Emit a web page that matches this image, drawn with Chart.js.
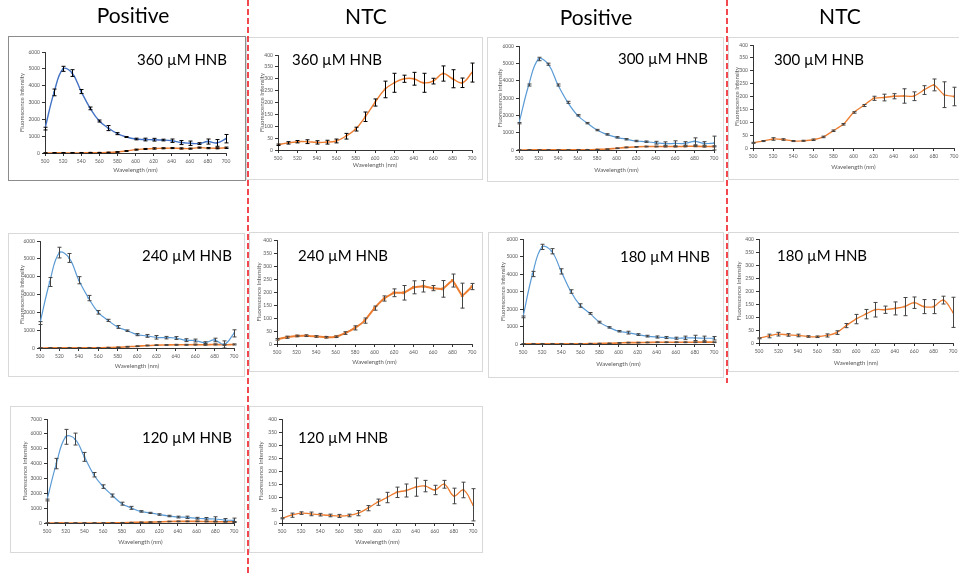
<!DOCTYPE html>
<html>
<head>
<meta charset="utf-8">
<script src="https://cdn.jsdelivr.net/npm/chart.js@4.4.1/dist/chart.umd.min.js"></script>
<style>
  html, body { margin: 0; padding: 0; background: #fff; }
  body { width: 959px; height: 573px; position: relative; overflow: hidden; }
  .panel { position: absolute; box-sizing: border-box; border: 1px solid #d9d9d9; background: #fff; }
  .panel canvas { position: absolute; left: 0; top: 0; }
  #overlay { position: absolute; left: 0; top: 0; pointer-events: none; }
</style>
</head>
<body>
<svg id="overlay" width="959" height="573">
  <g font-family="Lato, 'Open Sans', sans-serif" font-size="21" fill="#000" text-anchor="middle">
    <text x="133" y="23">Positive</text>
    <text x="366" y="24">NTC</text>
    <text x="596" y="25">Positive</text>
    <text x="840" y="24">NTC</text>
  </g>
  <line x1="248" y1="0" x2="248" y2="573" stroke="#ee1c24" stroke-width="1.6" stroke-dasharray="6 3"/>
  <line x1="727" y1="0" x2="727" y2="383" stroke="#ee1c24" stroke-width="1.6" stroke-dasharray="6 3"/>
</svg>
<script>
// ── Emission scan data (fluorescence vs wavelength, mean ± SD) ─────────────
const WAVELENGTHS = [500, 510, 520, 530, 540, 550, 560, 570, 580, 590, 600,
                     610, 620, 630, 640, 650, 660, 670, 680, 690, 700];

// 360 µM HNB
const pos360      = [1450, 3600, 5000, 4750, 3650, 2650, 1900, 1480, 1150, 950, 830, 800, 790, 770, 730, 620, 580, 560, 680, 600, 850];
const pos360Err   = [80, 200, 150, 200, 120, 80, 60, 150, 60, 30, 50, 80, 80, 50, 100, 120, 130, 50, 150, 200, 250];
const posNtc360   = [0, 10, 10, 10, 10, 20, 20, 30, 60, 120, 200, 240, 270, 280, 290, 270, 260, 320, 290, 280, 310];
const posNtc360Err= [10, 15, 15, 15, 15, 15, 15, 20, 20, 25, 30, 30, 40, 30, 30, 35, 30, 30, 35, 30, 40];
const ntc360      = [22, 30, 35, 35, 32, 33, 38, 58, 88, 140, 200, 255, 283, 300, 300, 283, 290, 322, 300, 283, 326];
const ntc360Err   = [3, 5, 5, 8, 7, 8, 8, 12, 8, 20, 15, 35, 40, 15, 27, 40, 12, 32, 38, 20, 40];

// 300 µM HNB
const pos300      = [1550, 3750, 5250, 4950, 3750, 2750, 2000, 1550, 1150, 900, 730, 620, 520, 480, 420, 370, 380, 380, 500, 380, 400];
const pos300Err   = [40, 60, 100, 60, 60, 60, 40, 40, 40, 40, 40, 40, 40, 40, 80, 100, 150, 100, 200, 100, 400];
const posNtc300   = [0, 5, 5, 5, 5, 5, 10, 15, 30, 50, 100, 150, 180, 200, 200, 200, 200, 210, 220, 200, 210];
const posNtc300Err= [5, 5, 5, 5, 5, 5, 5, 10, 10, 10, 20, 20, 20, 20, 20, 25, 25, 25, 30, 30, 30];
const ntc300      = [20, 27, 35, 33, 27, 28, 32, 43, 67, 92, 138, 165, 193, 196, 201, 202, 201, 225, 245, 207, 200];
const ntc300Err   = [2, 2, 5, 3, 2, 2, 3, 3, 3, 3, 3, 4, 8, 13, 10, 28, 17, 17, 23, 50, 36];

// 240 µM HNB
const pos240      = [1400, 3700, 5350, 5050, 3800, 2800, 2000, 1550, 1180, 970, 750, 680, 600, 580, 560, 440, 420, 300, 450, 200, 820];
const pos240Err   = [80, 250, 300, 250, 200, 150, 100, 60, 80, 40, 60, 80, 100, 70, 80, 80, 80, 50, 100, 200, 200];
const posNtc240   = [0, 5, 5, 10, 10, 10, 15, 20, 40, 70, 100, 140, 160, 170, 180, 180, 190, 180, 200, 180, 200];
const posNtc240Err= [10, 10, 10, 10, 10, 10, 10, 15, 15, 20, 20, 20, 20, 20, 25, 25, 25, 25, 30, 30, 30];
const ntc240      = [18, 26, 31, 32, 29, 26, 28, 42, 62, 90, 138, 175, 197, 197, 218, 222, 215, 212, 244, 186, 221];
const ntc240Err   = [3, 4, 3, 3, 3, 3, 3, 5, 8, 10, 8, 10, 15, 28, 25, 22, 10, 32, 25, 48, 12];

// 180 µM HNB
const pos180      = [1550, 4000, 5550, 5300, 4150, 3000, 2200, 1750, 1250, 950, 730, 650, 540, 450, 400, 370, 330, 350, 350, 330, 330];
const pos180Err   = [50, 150, 150, 150, 150, 100, 100, 50, 50, 40, 40, 80, 50, 50, 60, 60, 60, 100, 150, 120, 100];
const posNtc180   = [10, 10, 10, 10, 10, 10, 15, 20, 30, 40, 60, 80, 80, 90, 100, 100, 100, 100, 100, 110, 100];
const posNtc180Err= [5, 5, 5, 5, 5, 5, 5, 10, 10, 10, 15, 15, 15, 15, 20, 20, 20, 20, 20, 20, 20];
const ntc180      = [18, 27, 34, 31, 29, 25, 24, 29, 40, 67, 92, 111, 128, 128, 133, 140, 155, 140, 140, 165, 118];
const ntc180Err   = [2, 7, 7, 5, 5, 3, 3, 6, 7, 8, 18, 18, 28, 14, 25, 35, 22, 27, 27, 15, 58];

// 120 µM HNB
const pos120      = [1550, 4000, 5800, 5650, 4450, 3250, 2450, 1850, 1300, 1020, 780, 680, 570, 470, 400, 380, 320, 290, 270, 200, 180];
const pos120Err   = [60, 350, 500, 400, 300, 150, 120, 100, 100, 100, 50, 40, 50, 50, 60, 80, 60, 80, 150, 100, 150];
const posNtc120   = [0, 5, 5, 5, 5, 5, 5, 10, 15, 30, 50, 60, 80, 100, 110, 110, 110, 100, 90, 80, 80];
const posNtc120Err= [5, 5, 5, 5, 5, 5, 5, 10, 10, 10, 15, 15, 15, 15, 20, 20, 20, 20, 20, 20, 20];
const ntc120      = [18, 30, 38, 35, 32, 29, 27, 29, 38, 57, 80, 98, 118, 125, 138, 142, 127, 149, 104, 127, 70];
const ntc120Err   = [2, 8, 5, 7, 5, 5, 6, 5, 10, 10, 12, 20, 20, 25, 35, 22, 18, 15, 30, 30, 62];

const BLUE = "#5b9bd5";
const ORANGE = "#ed7d31";
const FONT = "Lato, 'Open Sans', sans-serif";
const AXIS_TEXT = "#595959";

// Panel layout, page coordinates: box = outer frame, plot = axis rectangle
const PANELS = [
  { label: "360 µM HNB", box: [8, 36, 246, 181], plot: [45, 52, 226, 153], ymax: 6000, ystep: 1000,
    labelAt: [227, 60, "right"], yTitleX: 22, xTitleY: 170, frame: "#8c8c8c", errColor: "#000",
    series: [
      { values: pos360, errors: pos360Err, color: "#4472c4", width: 1.4 },
      { values: posNtc360, errors: posNtc360Err, color: ORANGE, width: 1.4 },
    ] },
  { label: "360 µM HNB", box: [246, 37, 483, 180], plot: [278, 55, 472, 150], ymax: 400, ystep: 50,
    labelAt: [292, 60, "left"], yTitleX: 262, xTitleY: 165, errColor: "#000",
    series: [{ values: ntc360, errors: ntc360Err, color: ORANGE, width: 1.4 }] },
  { label: "300 µM HNB", box: [487, 37, 724, 182], plot: [519, 46, 714, 150], ymax: 6000, ystep: 1000,
    labelAt: [708, 59, "right"], yTitleX: 500, xTitleY: 170, errColor: "#444",
    series: [
      { values: pos300, errors: pos300Err, color: BLUE, width: 1.2 },
      { values: posNtc300, errors: posNtc300Err, color: ORANGE, width: 1.6 },
    ] },
  { label: "300 µM HNB", box: [728, 37, 962, 180], plot: [753, 45, 954, 148], ymax: 400, ystep: 50,
    labelAt: [774, 60, "left"], yTitleX: 737, xTitleY: 167, errColor: "#444",
    series: [{ values: ntc300, errors: ntc300Err, color: ORANGE, width: 1.3, tension: 0.15 }] },
  { label: "240 µM HNB", box: [8, 233, 245, 377], plot: [40, 241, 234, 348], ymax: 6000, ystep: 1000,
    labelAt: [232, 256, "right"], yTitleX: 22, xTitleY: 366, errColor: "#444",
    series: [
      { values: pos240, errors: pos240Err, color: BLUE, width: 1.2 },
      { values: posNtc240, errors: posNtc240Err, color: ORANGE, width: 1.6 },
    ] },
  { label: "240 µM HNB", box: [249, 232, 483, 372], plot: [277, 240, 472, 344], ymax: 400, ystep: 50,
    labelAt: [298, 256, "left"], yTitleX: 259, xTitleY: 362, errColor: "#444",
    series: [{ values: ntc240, errors: ntc240Err, color: ORANGE, width: 2, tension: 0.1, radius: 2 }] },
  { label: "180 µM HNB", box: [488, 232, 724, 378], plot: [523, 239, 714, 344], ymax: 6000, ystep: 1000,
    labelAt: [710, 257, "right"], yTitleX: 503, xTitleY: 364, errColor: "#444",
    series: [
      { values: pos180, errors: pos180Err, color: BLUE, width: 1.2 },
      { values: posNtc180, errors: posNtc180Err, color: ORANGE, width: 1.6 },
    ] },
  { label: "180 µM HNB", box: [728, 232, 962, 372], plot: [759, 239, 953, 343], ymax: 400, ystep: 50,
    labelAt: [777, 256, "left"], yTitleX: 739, xTitleY: 363, errColor: "#444",
    series: [{ values: ntc180, errors: ntc180Err, color: ORANGE, width: 1.3 }] },
  { label: "120 µM HNB", box: [10, 406, 245, 553], plot: [47, 419, 234, 523], ymax: 7000, ystep: 1000,
    labelAt: [232, 438, "right"], yTitleX: 25, xTitleY: 542, errColor: "#444",
    series: [
      { values: pos120, errors: pos120Err, color: BLUE, width: 1.2 },
      { values: posNtc120, errors: posNtc120Err, color: ORANGE, width: 1.6 },
    ] },
  { label: "120 µM HNB", box: [249, 406, 483, 553], plot: [282, 419, 473, 523], ymax: 400, ystep: 50,
    labelAt: [298, 438, "left"], yTitleX: 261, xTitleY: 542, errColor: "#444",
    series: [{ values: ntc120, errors: ntc120Err, color: ORANGE, width: 1.3 }] },
];

// Vertical error bars with small caps, drawn through the chart's own scales
const errorBars = {
  id: "errorBars",
  afterDatasetsDraw(chart, _args, opts) {
    const { ctx } = chart;
    const yScale = chart.scales.y;
    ctx.save();
    ctx.strokeStyle = opts.color || "#000";
    ctx.lineWidth = 1;
    chart.data.datasets.forEach((ds, di) => {
      if (!ds.errors) return;
      const meta = chart.getDatasetMeta(di);
      meta.data.forEach((pt, i) => {
        const v = ds.data[i].y, e = ds.errors[i];
        if (!e) return;
        const x = Math.round(pt.x) + 0.5;
        const yHi = yScale.getPixelForValue(v + e);
        const yLo = yScale.getPixelForValue(Math.max(v - e, 0));
        ctx.beginPath();
        ctx.moveTo(x, yHi); ctx.lineTo(x, yLo);
        ctx.moveTo(x - 2, yHi); ctx.lineTo(x + 2, yHi);
        ctx.moveTo(x - 2, yLo); ctx.lineTo(x + 2, yLo);
        ctx.stroke();
      });
    });
    ctx.restore();
  },
};

// Concentration label placed inside the plot
const panelLabel = {
  id: "panelLabel",
  afterDraw(chart, _args, opts) {
    const { ctx } = chart;
    ctx.save();
    ctx.font = "15px " + FONT;
    ctx.fillStyle = "#000";
    ctx.textAlign = opts.align;
    ctx.textBaseline = "middle";
    ctx.fillText(opts.text, opts.x, opts.y);
    ctx.restore();
  },
};

function axisCommon(font) {
  return {
    grid: { display: true, drawOnChartArea: false, tickLength: 3, color: "#000", lineWidth: 0.8 },
    border: { display: true, color: "#000", width: 0.8 },
    ticks: { color: AXIS_TEXT, font: { size: 5, family: font }, padding: 2, autoSkip: false, maxRotation: 0,
             callback: v => String(v) },
  };
}

function makePanel(p) {
  const w = p.box[2] - p.box[0], h = p.box[3] - p.box[1];
  const div = document.createElement("div");
  div.className = "panel";
  Object.assign(div.style, { left: p.box[0] + "px", top: p.box[1] + "px", width: w + "px", height: h + "px" });
  if (p.frame) div.style.borderColor = p.frame;
  const cv = document.createElement("canvas");
  cv.width = w - 2; cv.height = h - 2;
  div.appendChild(cv);
  document.body.insertBefore(div, document.getElementById("overlay"));

  const ox = p.box[0] + 1, oy = p.box[1] + 1;
  const cw = w - 2, ch = h - 2;
  const yAxisW = p.plot[0] - ox;
  const xAxisH = oy + ch - p.plot[3];
  const titleFont = { size: 6, family: FONT, lineHeight: 1.2 };

  const datasets = p.series.map(s => ({
    data: WAVELENGTHS.map((x, i) => ({ x, y: s.values[i] })),
    errors: s.errors,
    borderColor: s.color,
    backgroundColor: s.color,
    borderWidth: s.width,
    pointStyle: "rect",
    pointRadius: s.radius || 1.3,
    pointBorderWidth: 0,
    tension: s.tension != null ? s.tension : 0.4,
  }));

  const xAxis = axisCommon(FONT);
  const yAxis = axisCommon(FONT);

  new Chart(cv, {
    type: "line",
    data: { datasets },
    options: {
      responsive: false,
      animation: false,
      devicePixelRatio: 1,
      layout: { padding: { left: 0, top: p.plot[1] - oy, right: ox + cw - p.plot[2], bottom: 0 } },
      plugins: {
        legend: { display: false },
        tooltip: { enabled: false },
        errorBars: { color: p.errColor },
        panelLabel: { text: p.label, x: p.labelAt[0] - ox, y: p.labelAt[1] - oy, align: p.labelAt[2] },
      },
      scales: {
        x: {
          type: "linear", min: 500, max: 700,
          ...xAxis,
          ticks: { ...xAxis.ticks, stepSize: 20 },
          title: { display: true, text: "Wavelength (nm)", color: AXIS_TEXT, font: titleFont,
                   padding: { top: 0, bottom: (oy + ch) - p.xTitleY - 3.6 } },
          afterFit: s => { s.height = xAxisH; s.paddingLeft = 0; s.paddingRight = 0; },
        },
        y: {
          min: 0, max: p.ymax,
          ...yAxis,
          ticks: { ...yAxis.ticks, stepSize: p.ystep },
          title: { display: true, text: "Fluorescence Intensity", color: AXIS_TEXT, font: titleFont,
                   padding: { top: p.yTitleX - ox - 3.6, bottom: 0 } },
          afterFit: s => { s.width = yAxisW; s.paddingTop = 0; s.paddingBottom = 0; },
        },
      },
    },
    plugins: [errorBars, panelLabel],
  });
}

PANELS.forEach(makePanel);
</script>
</body>
</html>
